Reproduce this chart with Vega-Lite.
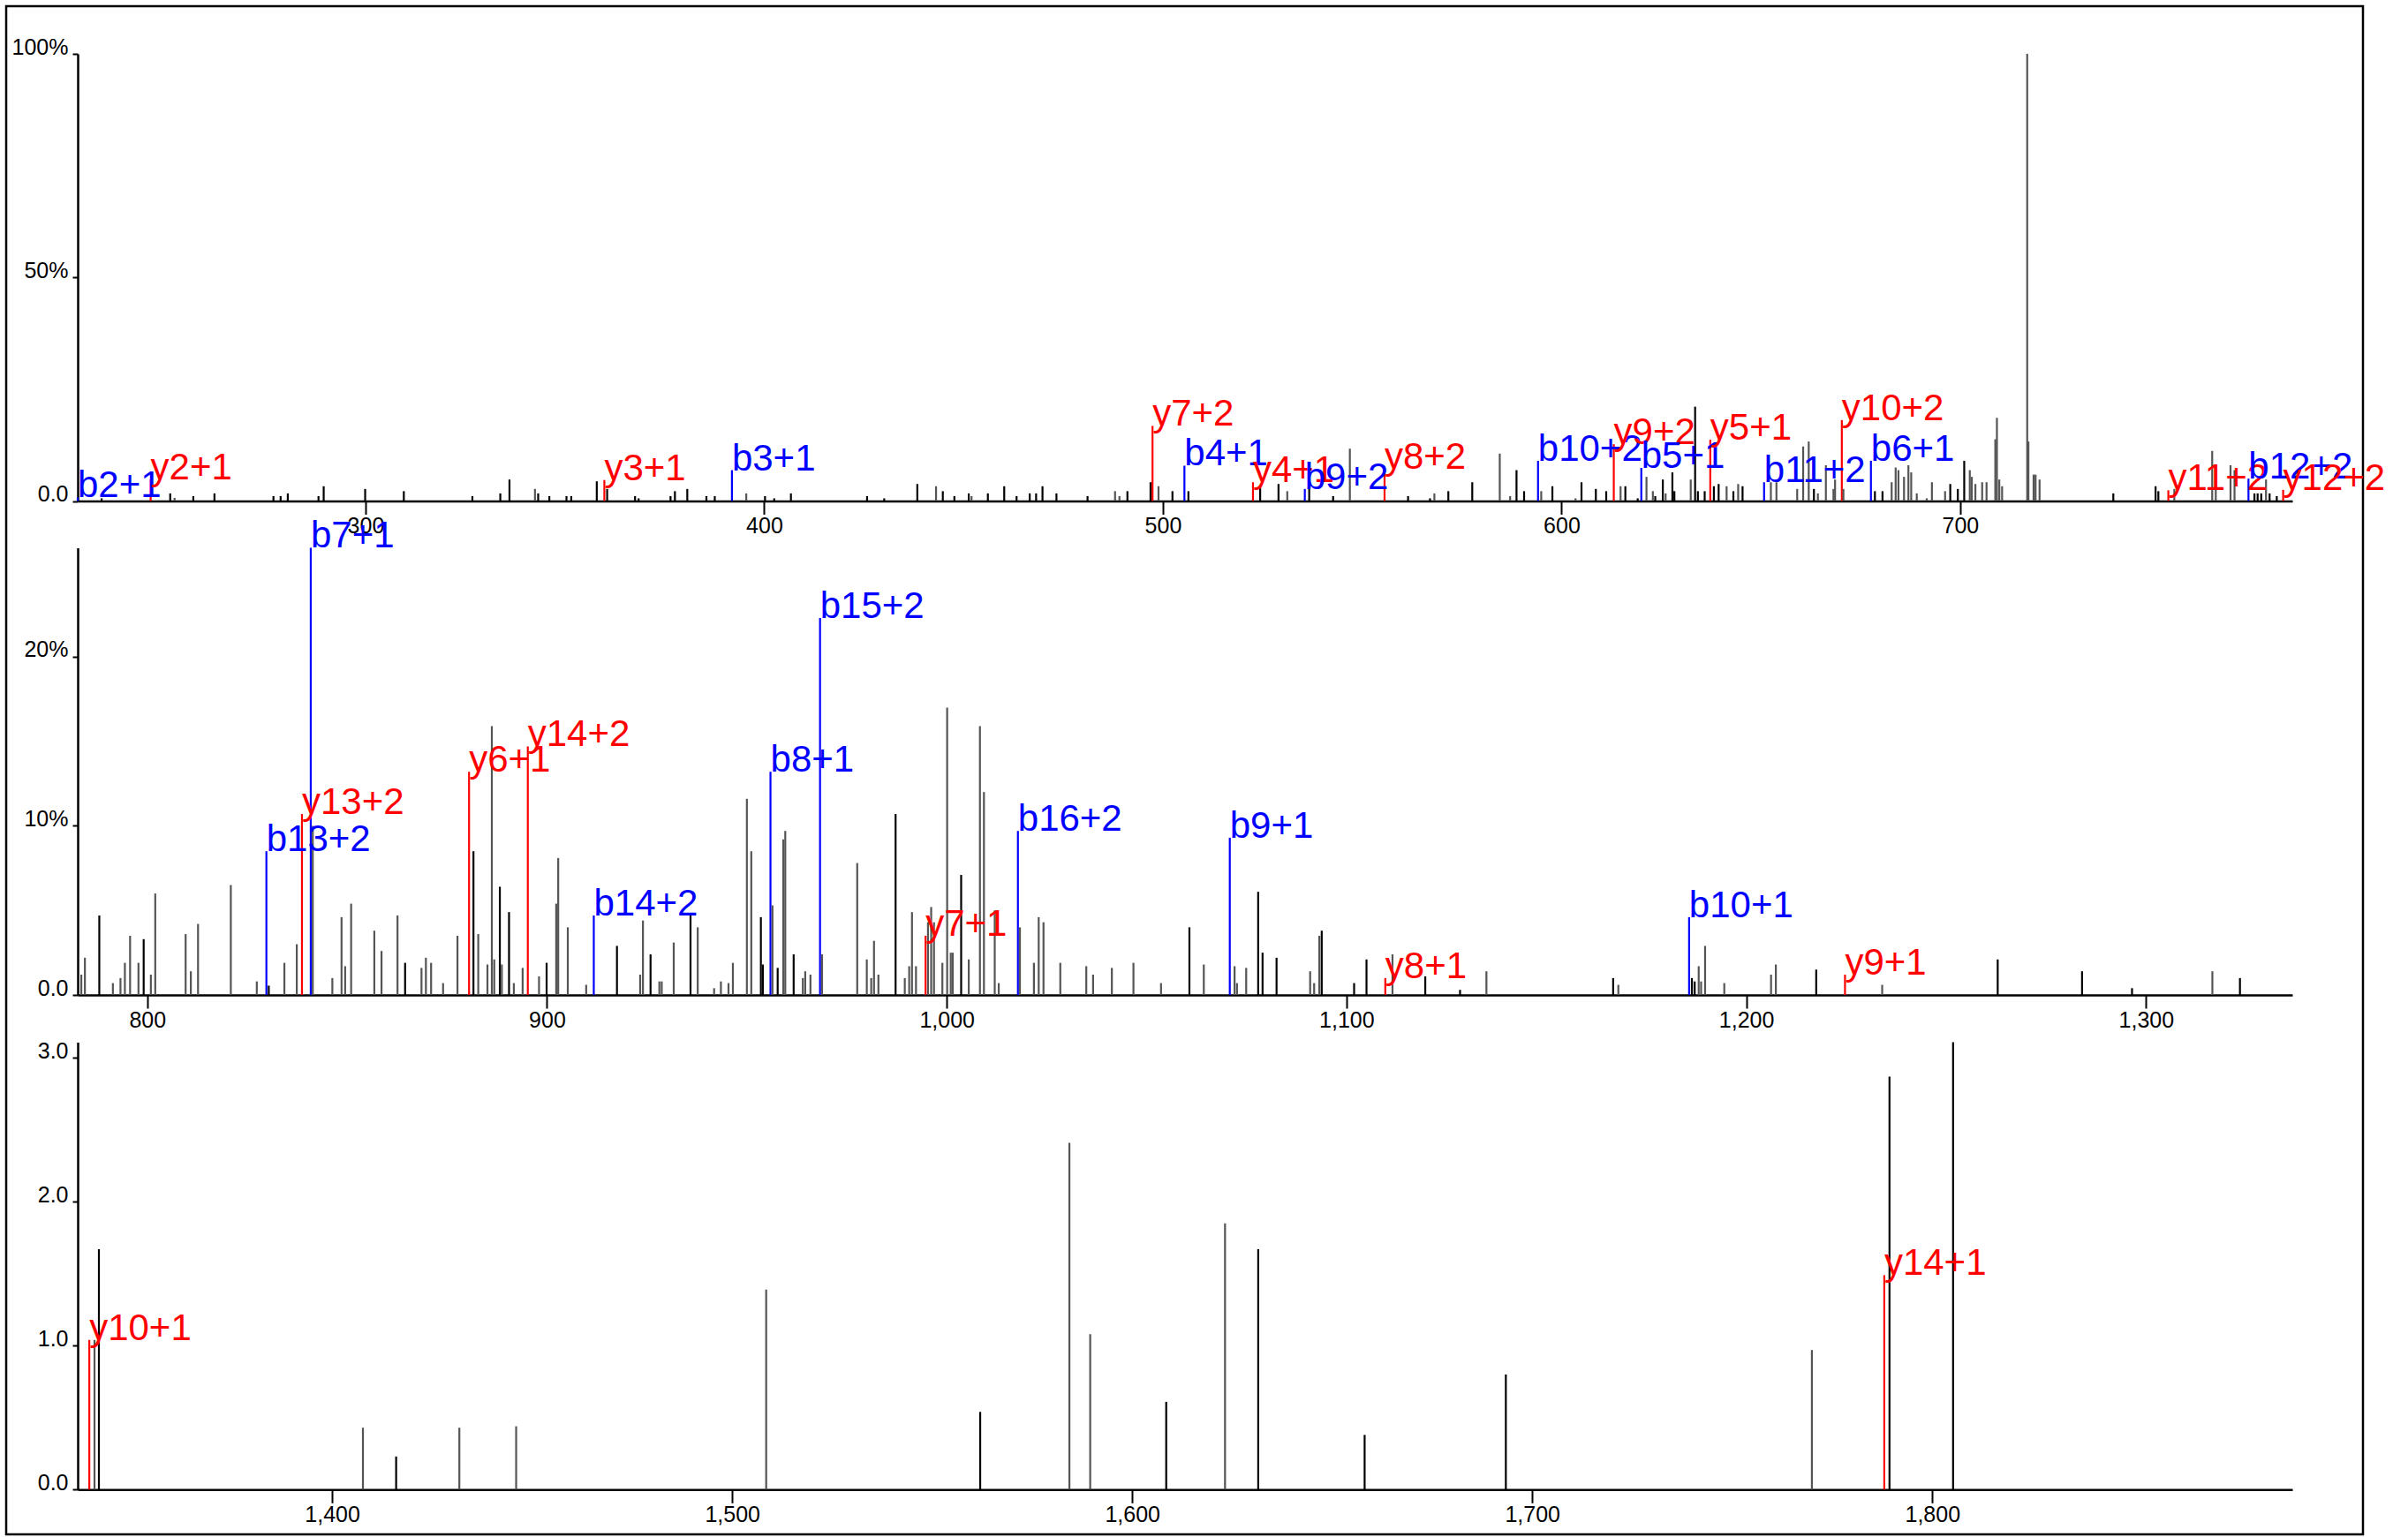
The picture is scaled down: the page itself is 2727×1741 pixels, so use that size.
{
"$schema": "https://vega.github.io/schema/vega-lite/v6.json",
"width": 2669, "height": 1731,
"autosize": {"type": "none"},
"padding": {"left": 7, "top": 7, "right": 51, "bottom": 3},
"background": "white",
"config": {
  "view": {"stroke": "#000000", "strokeWidth": 2.5},
  "font": "Liberation Sans",
  "axis": {"domainColor": "#000000", "domainWidth": 2.5, "tickColor": "#000000", "tickWidth": 2, "labelFont": "Liberation Sans", "labelFontSize": 25, "labelColor": "#000000", "grid": false, "title": null, "labelOverlap": false, "labelFlush": false},
  "axisX": {"tickSize": 15, "labelPadding": 1},
  "axisY": {"tickSize": 6, "labelPadding": 5, "labelBaseline": "alphabetic"},
  "rule": {"strokeWidth": 2.2},
  "text": {"font": "Liberation Sans", "fontSize": 42, "align": "left", "baseline": "alphabetic"}
},
"datasets": {
"p1": [
{"mz":227.8,"v":0.8,"t":"b","lab":"b2+1"},{"mz":233.8,"v":0.6,"t":"k"},{"mz":246.1,"v":4.8,"t":"y","lab":"y2+1"},{"mz":251.0,"v":1.7,"t":"k"},{"mz":252.1,"v":0.7,"t":"g"},{"mz":256.8,"v":1.1,"t":"k"},{"mz":262.1,"v":1.7,"t":"k"},{"mz":276.9,"v":1.1,"t":"k"},{"mz":278.7,"v":1.1,"t":"k"},{"mz":280.5,"v":1.7,"t":"k"},{"mz":288.2,"v":1.1,"t":"k"},{"mz":289.5,"v":3.3,"t":"k"},{"mz":299.9,"v":2.7,"t":"k"},{"mz":309.6,"v":2.2,"t":"k"},{"mz":326.8,"v":1.1,"t":"k"},{"mz":333.8,"v":1.7,"t":"k"},{"mz":336.1,"v":4.8,"t":"k"},{"mz":342.5,"v":2.7,"t":"g"},{"mz":343.3,"v":1.7,"t":"k"},{"mz":346.1,"v":1.1,"t":"k"},{"mz":350.4,"v":1.1,"t":"k"},{"mz":351.6,"v":1.1,"t":"k"},{"mz":358.0,"v":4.4,"t":"k"},{"mz":359.9,"v":4.7,"t":"y","lab":"y3+1"},{"mz":360.6,"v":2.7,"t":"k"},{"mz":367.6,"v":1.1,"t":"k"},{"mz":368.5,"v":0.6,"t":"k"},{"mz":376.5,"v":1.1,"t":"k"},{"mz":377.6,"v":2.2,"t":"k"},{"mz":380.7,"v":2.7,"t":"k"},{"mz":385.5,"v":1.1,"t":"k"},{"mz":387.6,"v":1.1,"t":"k"},{"mz":391.9,"v":6.9,"t":"b","lab":"b3+1"},{"mz":395.5,"v":1.7,"t":"g"},{"mz":400.2,"v":1.1,"t":"k"},{"mz":402.5,"v":0.6,"t":"k"},{"mz":406.7,"v":1.7,"t":"k"},
{"mz":425.8,"v":1.1,"t":"k"},{"mz":430.1,"v":0.6,"t":"k"},{"mz":438.4,"v":3.8,"t":"k"},{"mz":443.1,"v":3.3,"t":"g"},{"mz":444.8,"v":2.2,"t":"k"},{"mz":447.7,"v":1.1,"t":"k"},{"mz":451.3,"v":1.7,"t":"k"},{"mz":452.0,"v":1.1,"t":"g"},{"mz":456.1,"v":1.7,"t":"k"},{"mz":460.2,"v":3.3,"t":"k"},{"mz":463.3,"v":1.1,"t":"k"},{"mz":466.6,"v":1.7,"t":"k"},{"mz":468.2,"v":1.7,"t":"k"},{"mz":469.8,"v":3.3,"t":"k"},{"mz":473.3,"v":1.7,"t":"k"},{"mz":481.1,"v":1.1,"t":"k"},{"mz":488.0,"v":2.2,"t":"g"},{"mz":489.1,"v":1.1,"t":"g"},{"mz":491.1,"v":2.2,"t":"k"},{"mz":496.9,"v":4.2,"t":"k"},{"mz":497.4,"v":16.8,"t":"y","lab":"y7+2"},{"mz":498.9,"v":3.3,"t":"g"},{"mz":502.4,"v":2.2,"t":"k"},{"mz":505.4,"v":7.9,"t":"b","lab":"b4+1"},{"mz":506.4,"v":2.2,"t":"k"},{"mz":522.6,"v":4.2,"t":"y","lab":"y4+1"},{"mz":524.4,"v":3.3,"t":"k"},{"mz":529.0,"v":3.8,"t":"k"},{"mz":531.2,"v":2.2,"t":"g"},{"mz":535.6,"v":2.7,"t":"b","lab":"b9+2"},{"mz":536.7,"v":2.7,"t":"k"},{"mz":542.7,"v":1.1,"t":"k"},{"mz":546.9,"v":11.7,"t":"g"},{"mz":555.6,"v":7.3,"t":"y","lab":"y8+2"},{"mz":561.5,"v":1.1,"t":"k"},{"mz":567.0,"v":0.6,"t":"k"},{"mz":568.1,"v":1.7,"t":"g"},{"mz":571.6,"v":2.2,"t":"k"},{"mz":577.6,"v":4.2,"t":"k"},{"mz":584.5,"v":10.6,"t":"g"},{"mz":587.1,"v":1.1,"t":"g"},{"mz":588.7,"v":6.9,"t":"k"},{"mz":590.6,"v":2.2,"t":"k"},{"mz":594.1,"v":9.0,"t":"b","lab":"b10+2"},{"mz":594.9,"v":2.2,"t":"g"},{"mz":597.7,"v":3.3,"t":"k"},{"mz":603.5,"v":0.6,"t":"g"},{"mz":605.0,"v":4.2,"t":"k"},
{"mz":608.6,"v":2.7,"t":"k"},{"mz":611.2,"v":2.2,"t":"k"},{"mz":613.1,"v":12.7,"t":"y","lab":"y9+2"},{"mz":614.8,"v":3.3,"t":"g"},{"mz":616.0,"v":3.3,"t":"k"},{"mz":619.1,"v":0.6,"t":"k"},{"mz":620.0,"v":7.4,"t":"b","lab":"b5+1"},{"mz":621.3,"v":5.4,"t":"g"},{"mz":622.9,"v":2.2,"t":"g"},{"mz":623.5,"v":1.1,"t":"k"},{"mz":625.4,"v":4.8,"t":"k"},{"mz":626.1,"v":1.7,"t":"g"},{"mz":627.8,"v":6.4,"t":"k"},{"mz":628.3,"v":2.2,"t":"k"},{"mz":632.4,"v":4.8,"t":"g"},{"mz":633.5,"v":21.1,"t":"k"},{"mz":634.2,"v":2.2,"t":"k"},{"mz":635.9,"v":2.2,"t":"k"},{"mz":637.3,"v":13.7,"t":"y","lab":"y5+1"},{"mz":638.2,"v":3.3,"t":"k"},{"mz":639.4,"v":3.8,"t":"k"},{"mz":641.4,"v":3.3,"t":"g"},{"mz":643.1,"v":2.2,"t":"k"},{"mz":644.3,"v":3.8,"t":"g"},{"mz":645.4,"v":3.3,"t":"k"},{"mz":650.8,"v":4.2,"t":"b","lab":"b11+2"},{"mz":652.5,"v":4.2,"t":"g"},{"mz":653.9,"v":4.2,"t":"g"},{"mz":659.1,"v":2.7,"t":"g"},{"mz":660.6,"v":12.2,"t":"g"},{"mz":662.0,"v":13.3,"t":"g"},{"mz":663.3,"v":2.7,"t":"k"},{"mz":664.3,"v":1.7,"t":"g"},{"mz":666.3,"v":8.0,"t":"g"},{"mz":668.2,"v":2.7,"t":"g"},{"mz":668.6,"v":4.8,"t":"g"},{"mz":670.3,"v":18.1,"t":"y","lab":"y10+2"},{"mz":670.7,"v":2.7,"t":"g"},{"mz":677.6,"v":9.0,"t":"b","lab":"b6+1"},{"mz":678.6,"v":2.2,"t":"k"},{"mz":680.5,"v":2.2,"t":"k"},{"mz":682.8,"v":4.2,"t":"g"},{"mz":683.8,"v":7.5,"t":"g"},{"mz":684.5,"v":6.9,"t":"g"},{"mz":685.9,"v":5.4,"t":"g"},{"mz":687.0,"v":8.0,"t":"g"},{"mz":687.7,"v":6.4,"t":"g"},{"mz":689.1,"v":1.7,"t":"g"},{"mz":691.6,"v":0.6,"t":"g"},{"mz":692.9,"v":4.2,"t":"g"},{"mz":696.2,"v":2.2,"t":"g"},{"mz":697.5,"v":3.8,"t":"k"},{"mz":699.4,"v":2.7,"t":"k"},{"mz":701.0,"v":9.0,"t":"k"},{"mz":702.4,"v":6.9,"t":"g"},{"mz":702.9,"v":5.4,"t":"g"},{"mz":703.8,"v":3.8,"t":"g"},{"mz":705.5,"v":4.2,"t":"g"},{"mz":706.6,"v":4.2,"t":"g"},{"mz":708.8,"v":13.8,"t":"g"},{"mz":709.2,"v":18.6,"t":"g"},{"mz":709.8,"v":4.8,"t":"g"},{"mz":710.5,"v":3.3,"t":"g"},{"mz":716.8,"v":100,"t":"g"},{"mz":717.1,"v":13.3,"t":"g"},{"mz":718.4,"v":5.9,"t":"g"},{"mz":718.9,"v":5.9,"t":"g"},{"mz":719.9,"v":4.8,"t":"g"},{"mz":738.4,"v":1.7,"t":"k"},{"mz":749.0,"v":3.3,"t":"k"},{"mz":749.7,"v":2.2,"t":"k"},{"mz":752.2,"v":2.4,"t":"y","lab":"y11+2"},{"mz":753.7,"v":2.7,"t":"g"},{"mz":763.2,"v":11.2,"t":"g"},{"mz":764.1,"v":6.4,"t":"g"},{"mz":767.8,"v":8.0,"t":"g"},{"mz":768.8,"v":6.9,"t":"g"},{"mz":772.3,"v":5.0,"t":"b","lab":"b12+2"},{"mz":773.8,"v":1.7,"t":"k"},{"mz":774.6,"v":1.7,"t":"k"},{"mz":775.5,"v":1.7,"t":"k"},{"mz":776.7,"v":4.8,"t":"g"},{"mz":777.6,"v":1.7,"t":"k"},{"mz":779.4,"v":1.1,"t":"k"},{"mz":781.0,"v":2.5,"t":"y","lab":"y12+2"}
],
"p2": [
{"mz":783.5,"v":1.2,"t":"g"},{"mz":784.4,"v":2.2,"t":"g"},{"mz":788.0,"v":4.7,"t":"k"},{"mz":791.4,"v":0.7,"t":"g"},{"mz":793.3,"v":1.0,"t":"g"},{"mz":794.4,"v":1.9,"t":"g"},{"mz":795.7,"v":3.5,"t":"g"},{"mz":797.8,"v":1.9,"t":"g"},{"mz":799.1,"v":3.3,"t":"k"},{"mz":800.9,"v":1.2,"t":"g"},{"mz":802.0,"v":6.0,"t":"g"},{"mz":809.6,"v":3.6,"t":"g"},{"mz":810.9,"v":1.4,"t":"g"},{"mz":812.7,"v":4.2,"t":"g"},{"mz":820.9,"v":6.5,"t":"g"},{"mz":827.4,"v":0.8,"t":"g"},{"mz":829.8,"v":8.5,"t":"b","lab":"b13+2"},{"mz":830.4,"v":0.55,"t":"k"},{"mz":834.3,"v":1.9,"t":"g"},{"mz":837.4,"v":3.0,"t":"g"},{"mz":838.7,"v":10.7,"t":"y","lab":"y13+2"},{"mz":841.4,"v":10.0,"t":"g"},{"mz":840.9,"v":26.45,"t":"b","lab":"b7+1"},{"mz":846.3,"v":1.0,"t":"g"},{"mz":848.6,"v":4.6,"t":"g"},{"mz":849.5,"v":1.7,"t":"g"},{"mz":851.0,"v":5.4,"t":"g"},{"mz":856.8,"v":3.8,"t":"g"},{"mz":858.6,"v":2.6,"t":"g"},{"mz":862.6,"v":4.7,"t":"g"},{"mz":864.5,"v":1.9,"t":"k"},{"mz":868.6,"v":1.6,"t":"g"},{"mz":869.7,"v":2.2,"t":"g"},{"mz":871.0,"v":1.9,"t":"g"},{"mz":874.0,"v":0.7,"t":"g"},{"mz":877.6,"v":3.5,"t":"g"},{"mz":880.5,"v":13.2,"t":"y","lab":"y6+1"},{"mz":881.6,"v":8.5,"t":"k"},{"mz":882.8,"v":3.6,"t":"g"},{"mz":885.1,"v":1.8,"t":"g"},{"mz":886.2,"v":15.9,"t":"g"},{"mz":886.8,"v":2.1,"t":"g"},{"mz":888.2,"v":6.4,"t":"k"},{"mz":888.7,"v":1.8,"t":"g"},{"mz":890.5,"v":4.9,"t":"k"},{"mz":891.7,"v":0.7,"t":"g"},{"mz":893.9,"v":1.6,"t":"g"},{"mz":895.2,"v":14.7,"t":"y","lab":"y14+2"},{"mz":898.0,"v":1.1,"t":"g"},{"mz":899.9,"v":1.9,"t":"k"},{"mz":902.3,"v":5.4,"t":"g"},{"mz":902.8,"v":8.1,"t":"g"},{"mz":905.2,"v":4.0,"t":"g"},{"mz":909.8,"v":0.6,"t":"g"},{"mz":911.7,"v":4.7,"t":"b","lab":"b14+2"},{"mz":917.5,"v":2.9,"t":"k"},{"mz":923.3,"v":1.2,"t":"g"},{"mz":924.0,"v":4.4,"t":"g"},{"mz":925.9,"v":2.4,"t":"k"},{"mz":928.1,"v":0.8,"t":"g"},{"mz":928.7,"v":0.8,"t":"g"},{"mz":931.7,"v":3.1,"t":"g"},{"mz":935.9,"v":4.7,"t":"k"},{"mz":937.7,"v":4.0,"t":"g"},{"mz":941.8,"v":0.4,"t":"g"},{"mz":943.5,"v":0.8,"t":"g"},{"mz":945.4,"v":0.7,"t":"g"},{"mz":946.5,"v":1.9,"t":"g"},{"mz":950.0,"v":11.6,"t":"g"},{"mz":951.1,"v":8.5,"t":"g"},{"mz":953.5,"v":4.6,"t":"k"},{"mz":954.0,"v":1.8,"t":"k"},{"mz":955.9,"v":13.2,"t":"b","lab":"b8+1"},{"mz":956.4,"v":5.3,"t":"g"},{"mz":957.7,"v":1.6,"t":"k"},{"mz":959.1,"v":9.2,"t":"g"},{"mz":959.6,"v":9.7,"t":"g"},{"mz":961.7,"v":2.4,"t":"k"},{"mz":964.0,"v":1.0,"t":"g"},{"mz":964.6,"v":1.4,"t":"g"},{"mz":965.9,"v":1.2,"t":"g"},{"mz":968.3,"v":22.3,"t":"b","lab":"b15+2"},{"mz":968.8,"v":2.4,"t":"g"},{"mz":977.6,"v":7.8,"t":"g"},{"mz":980.0,"v":2.1,"t":"g"},{"mz":981.1,"v":1.0,"t":"g"},{"mz":981.8,"v":3.2,"t":"g"},{"mz":982.9,"v":1.2,"t":"g"},{"mz":987.2,"v":10.7,"t":"k"},{"mz":989.5,"v":1.0,"t":"g"},{"mz":990.6,"v":1.7,"t":"g"},{"mz":991.3,"v":4.9,"t":"g"},{"mz":992.3,"v":1.7,"t":"g"},{"mz":994.7,"v":3.5,"t":"y","lab":"y7+1"},{"mz":995.3,"v":4.3,"t":"g"},{"mz":996.1,"v":5.2,"t":"g"},{"mz":996.8,"v":4.3,"t":"g"},{"mz":998.9,"v":1.9,"t":"g"},{"mz":1000.1,"v":17.0,"t":"g"},{"mz":1001.0,"v":2.5,"t":"g"},{"mz":1001.5,"v":2.5,"t":"g"},{"mz":1003.6,"v":7.1,"t":"k"},{"mz":1005.5,"v":2.1,"t":"g"},{"mz":1008.3,"v":15.9,"t":"g"},{"mz":1009.3,"v":12.0,"t":"g"},{"mz":1012.0,"v":5.0,"t":"g"},{"mz":1013.0,"v":0.7,"t":"g"},{"mz":1017.8,"v":9.7,"t":"b","lab":"b16+2"},{"mz":1018.3,"v":4.0,"t":"g"},{"mz":1021.8,"v":1.9,"t":"g"},{"mz":1023.0,"v":4.6,"t":"g"},{"mz":1024.2,"v":4.3,"t":"g"},{"mz":1028.4,"v":1.9,"t":"g"},{"mz":1034.9,"v":1.7,"t":"g"},{"mz":1036.6,"v":1.2,"t":"g"},{"mz":1041.3,"v":1.6,"t":"g"},{"mz":1046.7,"v":1.9,"t":"g"},{"mz":1053.6,"v":0.7,"t":"g"},{"mz":1060.7,"v":4.0,"t":"k"},{"mz":1064.3,"v":1.8,"t":"g"},{"mz":1070.8,"v":9.3,"t":"b","lab":"b9+1"},{"mz":1072.0,"v":1.7,"t":"g"},{"mz":1072.6,"v":0.7,"t":"g"},{"mz":1074.9,"v":1.6,"t":"g"},{"mz":1077.9,"v":6.1,"t":"k"},{"mz":1079.0,"v":2.5,"t":"k"},{"mz":1082.5,"v":2.2,"t":"k"},{"mz":1090.9,"v":1.4,"t":"g"},{"mz":1091.9,"v":0.7,"t":"g"},{"mz":1093.2,"v":3.5,"t":"g"},{"mz":1093.8,"v":3.8,"t":"k"},{"mz":1101.9,"v":0.7,"t":"k"},{"mz":1105.0,"v":2.1,"t":"k"},{"mz":1109.7,"v":1.0,"t":"y","lab":"y8+1"},{"mz":1111.5,"v":2.4,"t":"g"},{"mz":1119.7,"v":1.1,"t":"k"},{"mz":1128.4,"v":0.3,"t":"k"},{"mz":1135.0,"v":1.4,"t":"g"},{"mz":1166.7,"v":1.0,"t":"k"},{"mz":1168.0,"v":0.6,"t":"g"},{"mz":1185.7,"v":4.6,"t":"b","lab":"b10+1"},{"mz":1186.4,"v":1.0,"t":"k"},{"mz":1187.1,"v":0.8,"t":"k"},{"mz":1188.1,"v":1.7,"t":"g"},{"mz":1188.7,"v":0.8,"t":"g"},{"mz":1189.7,"v":2.9,"t":"g"},{"mz":1194.5,"v":0.7,"t":"g"},{"mz":1206.2,"v":1.2,"t":"g"},{"mz":1207.4,"v":1.8,"t":"g"},{"mz":1217.5,"v":1.5,"t":"k"},{"mz":1224.7,"v":1.2,"t":"y","lab":"y9+1"},{"mz":1234.0,"v":0.6,"t":"g"},{"mz":1262.9,"v":2.1,"t":"k"},{"mz":1284.0,"v":1.4,"t":"k"},{"mz":1296.5,"v":0.4,"t":"k"},{"mz":1316.6,"v":1.4,"t":"g"},{"mz":1323.5,"v":1.0,"t":"k"}
],
"p3": [
{"mz":1339.3,"v":1.04,"t":"y","lab":"y10+1"},{"mz":1340.6,"v":1.04,"t":"g"},{"mz":1341.7,"v":1.67,"t":"k"},{"mz":1407.7,"v":0.43,"t":"g"},{"mz":1416.0,"v":0.23,"t":"k"},{"mz":1431.8,"v":0.43,"t":"g"},{"mz":1446.0,"v":0.44,"t":"g"},{"mz":1508.5,"v":1.39,"t":"g"},{"mz":1562.0,"v":0.54,"t":"k"},{"mz":1584.3,"v":2.41,"t":"g"},{"mz":1589.5,"v":1.08,"t":"g"},{"mz":1608.5,"v":0.61,"t":"k"},{"mz":1623.2,"v":1.85,"t":"g"},{"mz":1631.5,"v":1.67,"t":"k"},{"mz":1658.1,"v":0.38,"t":"k"},{"mz":1693.4,"v":0.80,"t":"k"},{"mz":1769.9,"v":0.97,"t":"g"},{"mz":1788.0,"v":1.49,"t":"y","lab":"y14+1"},{"mz":1789.3,"v":2.87,"t":"k"},{"mz":1805.2,"v":3.11,"t":"k"}
]
},
"layer": [
{
  "data": {"name": "p1"},
  "encoding": {
    "x": {"field": "mz", "type": "quantitative", "scale": {"domain": [227.8, 783.3], "range": [81, 2589], "nice": false, "zero": false}, "axis": {"orient": "bottom", "offset": -1170.5, "values": [300, 400, 500, 600, 700], "format": ",d"}},
    "y": {"field": "v", "type": "quantitative", "scale": {"domain": [0, 100], "range": [560.5, 54], "nice": false}, "axis": {"orient": "left", "offset": -81, "values": [0, 50, 100], "labelExpr": "datum.value == 0 ? '0.0' : datum.value + '%'"}},
    "color": {"field": "t", "type": "nominal", "scale": {"domain": ["k", "g", "b", "y"], "range": ["#000000", "#555555", "#0000ff", "#ff0000"]}, "legend": null}
  },
  "layer": [
    {"mark": {"type": "rule"}, "encoding": {"y2": {"datum": 0}}},
    {"mark": {"type": "text"}, "transform": [{"filter": "datum.lab"}], "encoding": {"text": {"field": "lab"}}}
  ]
},
{
  "data": {"name": "p2"},
  "encoding": {
    "x": {"field": "mz", "type": "quantitative", "scale": {"domain": [782.6, 1336.6], "range": [81, 2589], "nice": false, "zero": false}, "axis": {"orient": "bottom", "offset": -611, "values": [800, 900, 1000, 1100, 1200, 1300], "format": ",d"}},
    "y": {"field": "v", "type": "quantitative", "scale": {"domain": [0, 26.45], "range": [1120, 613.4], "nice": false}, "axis": {"orient": "left", "offset": -81, "values": [0, 10, 20], "labelExpr": "datum.value == 0 ? '0.0' : datum.value + '%'"}},
    "color": {"field": "t", "type": "nominal", "scale": {"domain": ["k", "g", "b", "y"], "range": ["#000000", "#555555", "#0000ff", "#ff0000"]}, "legend": null}
  },
  "layer": [
    {"mark": {"type": "rule"}, "encoding": {"y2": {"datum": 0}}},
    {"mark": {"type": "text"}, "transform": [{"filter": "datum.lab"}], "encoding": {"text": {"field": "lab"}}}
  ]
},
{
  "data": {"name": "p3"},
  "encoding": {
    "x": {"field": "mz", "type": "quantitative", "scale": {"domain": [1336.4, 1890], "range": [81, 2589], "nice": false, "zero": false}, "axis": {"orient": "bottom", "offset": -50.7, "values": [1400, 1500, 1600, 1700, 1800], "format": ",d"}},
    "y": {"field": "v", "type": "quantitative", "scale": {"domain": [0, 3.11], "range": [1680.3, 1173.4], "nice": false}, "axis": {"orient": "left", "offset": -81, "values": [0, 1, 2, 3], "format": ".1f"}},
    "color": {"field": "t", "type": "nominal", "scale": {"domain": ["k", "g", "b", "y"], "range": ["#000000", "#555555", "#0000ff", "#ff0000"]}, "legend": null}
  },
  "layer": [
    {"mark": {"type": "rule"}, "encoding": {"y2": {"datum": 0}}},
    {"mark": {"type": "text"}, "transform": [{"filter": "datum.lab"}], "encoding": {"text": {"field": "lab"}}}
  ]
}
],
"resolve": {"scale": {"x": "independent", "y": "independent"}}
}
